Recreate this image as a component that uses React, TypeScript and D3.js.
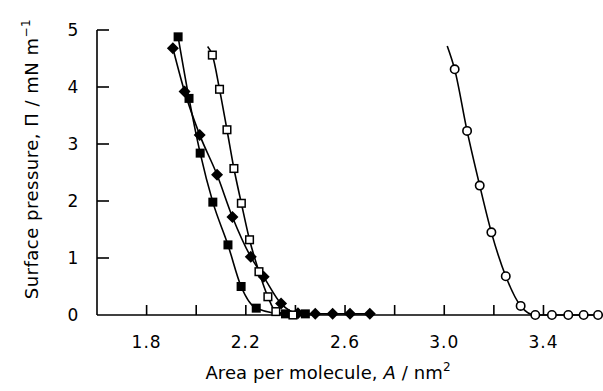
import React from "react";
import * as d3 from "d3";

type Pt = [number, number];

// Area per molecule (nm^2), surface pressure (mN/m)
const filledDiamonds: Pt[] = [
  [1.906, 4.68], [1.953, 3.92], [2.014, 3.16], [2.084, 2.46], [2.146, 1.72],
  [2.22, 1.02], [2.272, 0.67], [2.342, 0.2], [2.41, 0.03], [2.48, 0.02],
  [2.55, 0.02], [2.62, 0.02], [2.7, 0.02],
];
const filledSquares: Pt[] = [
  [1.927, 4.88], [1.971, 3.8], [2.016, 2.84], [2.067, 1.98], [2.128, 1.23],
  [2.181, 0.5], [2.242, 0.12], [2.36, 0.02], [2.44, 0.02],
];
const openSquaresLineStart: Pt = [2.046, 4.71];
const openSquares: Pt[] = [
  [2.065, 4.56], [2.094, 3.96], [2.124, 3.25], [2.152, 2.57], [2.182, 1.96],
  [2.215, 1.32], [2.253, 0.76], [2.289, 0.32], [2.321, 0.06], [2.39, 0.0],
];
const openCirclesLineStart: Pt = [3.012, 4.72];
const openCircles: Pt[] = [
  [3.042, 4.31], [3.092, 3.23], [3.143, 2.27], [3.19, 1.45], [3.248, 0.68],
  [3.308, 0.16], [3.367, 0.0], [3.434, 0.0], [3.5, 0.0], [3.562, 0.0], [3.62, 0.0],
];

const xTicks = [1.8, 2.0, 2.2, 2.4, 2.6, 2.8, 3.0, 3.2, 3.4];
const xTickLabels = ["1.8", "2.2", "2.6", "3.0", "3.4"];
const yTicks = [0, 1, 2, 3, 4, 5];

const W = 603;
const H = 391;

export default function App() {
  const x = d3.scaleLinear().domain([1.6, 3.64]).range([97, 603]);
  const y = d3.scaleLinear().domain([0, 5]).range([315, 30]);
  const line = d3
    .line<Pt>()
    .x((d) => x(d[0]))
    .y((d) => y(d[1]))
    .curve(d3.curveMonotoneX);

  const font = "'DejaVu Sans', 'Liberation Sans', sans-serif";
  const lw = 1.6;

  return (
    <svg
      width={W}
      height={H}
      style={{ position: "absolute", left: 0, top: 0, background: "#fff" }}
      fontFamily={font}
    >
      <rect width={W} height={H} fill="#fff" />
      {/* axes */}
      <g stroke="#000" strokeWidth={1.6} fill="none">
        <line x1={x(1.6)} x2={x(1.6)} y1={y(0)} y2={y(5)} />
        <line x1={x(1.6)} x2={W} y1={y(0)} y2={y(0)} />
        {yTicks.filter((t) => t > 0).map((t) => (
          <line key={t} x1={x(1.6)} x2={x(1.6) + 12} y1={y(t)} y2={y(t)} />
        ))}
        {xTicks.map((t) => (
          <line key={t} x1={x(t)} x2={x(t)} y1={y(0)} y2={y(0) - 10} />
        ))}
      </g>
      {/* tick labels */}
      <g fontSize={17} fill="#000">
        {yTicks.map((t) => (
          <text key={t} x={73} y={y(t) + 6} textAnchor="middle">
            {String(t)}
          </text>
        ))}
        {xTickLabels.map((t) => (
          <text key={t} x={x(+t)} y={348} textAnchor="middle" letterSpacing={1}>
            {t}
          </text>
        ))}
      </g>
      {/* axis titles */}
      <text x={328} y={379} fontSize={18} textAnchor="middle" letterSpacing={0.1}>
        Area per molecule, <tspan fontStyle="italic">A</tspan> / nm
        <tspan dy={-8} fontSize={12}>2</tspan>
      </text>
      <text
        transform={`translate(38,159) rotate(-90)`}
        fontSize={18}
        textAnchor="middle"
        letterSpacing={0.5}
      >
        Surface pressure, Π / mN m
        <tspan dy={-8} fontSize={12}>−1</tspan>
      </text>
      {/* curves */}
      <g fill="none" stroke="#000" strokeWidth={lw}>
        <path d={line(filledDiamonds) || ""} />
        <path d={line(filledSquares) || ""} />
        <path d={line([openSquaresLineStart, ...openSquares]) || ""} />
        <path d={line([openCirclesLineStart, ...openCircles]) || ""} />
      </g>
      {/* markers */}
      <g>
        {filledSquares.map((d, i) => (
          <rect key={i} x={x(d[0]) - 4.5} y={y(d[1]) - 4.5} width={9} height={9} fill="#000" />
        ))}
        {filledDiamonds.map((d, i) => (
          <path
            key={i}
            d={`M${x(d[0])},${y(d[1]) - 6}l6,6l-6,6l-6,-6z`}
            fill="#000"
          />
        ))}
        {openSquares.map((d, i) => (
          <rect
            key={i}
            x={x(d[0]) - 3.8}
            y={y(d[1]) - 3.8}
            width={7.6}
            height={7.6}
            fill="#fff"
            stroke="#000"
            strokeWidth={1.5}
          />
        ))}
        {openCircles.map((d, i) => (
          <circle key={i} cx={x(d[0])} cy={y(d[1])} r={4.2} fill="#fff" stroke="#000" strokeWidth={1.6} />
        ))}
      </g>
    </svg>
  );
}
